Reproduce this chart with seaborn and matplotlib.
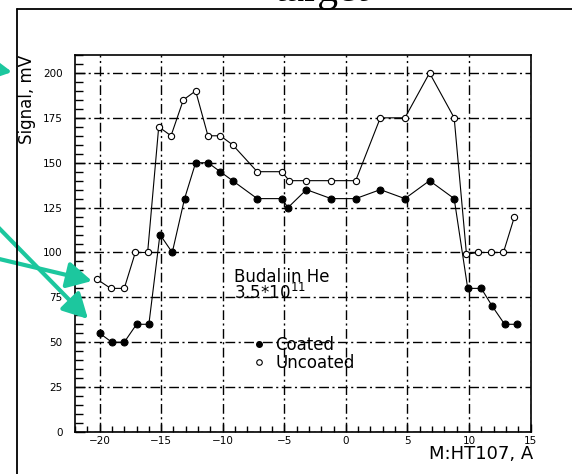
import matplotlib
matplotlib.use("Agg")
import matplotlib.pyplot as plt
from matplotlib.lines import Line2D
from matplotlib.patches import FancyArrowPatch
from matplotlib.ticker import MultipleLocator
import pandas as pd
import seaborn as sns

# ---- data ----
coated_x = [-20, -19, -18, -17, -16, -15.1, -14.1, -13.1, -12.2, -11.2, -10.2, -9.2,
            -7.2, -5.2, -4.7, -3.2, -1.2, 0.8, 2.8, 4.8, 6.8, 8.8, 9.9, 11, 11.9, 12.9, 13.9]
coated_y = [55, 50, 50, 60, 60, 110, 100, 130, 150, 150, 145, 140,
            130, 130, 125, 135, 130, 130, 135, 130, 140, 130, 80, 80, 70, 60, 60]

uncoated_x = [-20.2, -19.1, -18, -17.1, -16.1, -15.2, -14.2, -13.2, -12.2, -11.2, -10.2, -9.2,
              -7.2, -5.2, -4.6, -3.2, -1.2, 0.8, 2.8, 4.8, 6.8, 8.8, 9.8, 10.7, 11.8, 12.8, 13.7]
uncoated_y = [85, 80, 80, 100, 100, 170, 165, 185, 190, 165, 165, 160,
              145, 145, 140, 140, 140, 140, 175, 175, 200, 175, 99, 100, 100, 100, 120]

series_names = ["Coated", "Uncoated"]
x_ticks = [-20, -15, -10, -5, 0, 5, 10, 15]
y_ticks = [0, 25, 50, 75, 100, 125, 150, 175, 200]
x_label = "M:HT107, A"
y_label = "Signal, mV"
note_text = "Budal in He\n" + r"3.5*10$^{11}$"

df_c = pd.DataFrame({"x": coated_x, "y": coated_y})
df_u = pd.DataFrame({"x": uncoated_x, "y": uncoated_y})

sns.set_style("ticks")
plt.rcParams["font.family"] = ["DejaVu Sans"]
plt.rcParams["mathtext.fontset"] = "dejavusans"
for key in ["text.color", "axes.labelcolor", "xtick.color", "ytick.color", "axes.edgecolor"]:
    plt.rcParams[key] = "black"

W, H = 572, 474
fig = plt.figure(figsize=(W / 100, H / 100), dpi=100)
fig.patch.set_facecolor("white")
ax = fig.add_axes([75 / W, 1 - 432 / H, (530.5 - 75) / W, (432 - 55) / H])
ax.set_facecolor("white")

sns.lineplot(data=df_c, x="x", y="y", ax=ax, color="black", linewidth=0.8,
             marker="o", markersize=5, markerfacecolor="black",
             markeredgecolor="black", sort=False, estimator=None)
sns.lineplot(data=df_u, x="x", y="y", ax=ax, color="black", linewidth=0.8,
             marker="o", markersize=4.5, markerfacecolor="white",
             markeredgecolor="black", markeredgewidth=0.8, sort=False, estimator=None)

ax.set_xlim(-22, 15)
ax.set_ylim(0, 210)
ax.set_xticks(x_ticks)
ax.set_yticks(y_ticks)
ax.xaxis.set_minor_locator(MultipleLocator(1))
ax.yaxis.set_minor_locator(MultipleLocator(5))
ax.tick_params(axis="both", which="both", direction="in", top=False, right=False,
               width=1.0, color="black", labelcolor="black")
ax.tick_params(axis="x", which="major", length=6, pad=3, labelsize=7.5)
ax.tick_params(axis="x", which="minor", length=4)
ax.tick_params(axis="y", which="major", length=7, pad=9, labelsize=7.5)
ax.tick_params(axis="y", which="minor", length=6)

ax.grid(True, which="major", color="black", linewidth=1.0,
        linestyle=(0, (7, 2.5, 1.5, 2.5)))
for sp in ax.spines.values():
    sp.set_visible(True)
    sp.set_linewidth(1.2)
    sp.set_color("black")

ax.set_xlabel(x_label, fontsize=13, loc="right", color="black")
ax.xaxis.set_label_coords(1.005, -0.035)
ax.set_ylabel(y_label, fontsize=12, loc="top", color="black")
ax.yaxis.set_label_coords(-0.085, 1.0)

ax.text(-9.1, 91.5, note_text, fontsize=12, ha="left", va="top",
        linespacing=0.85, color="black")

handles = [Line2D([], [], linestyle="none", marker="o", markersize=4,
                  markerfacecolor="black", markeredgecolor="black"),
           Line2D([], [], linestyle="none", marker="o", markersize=4,
                  markerfacecolor="white", markeredgecolor="black", markeredgewidth=0.8)]
leg = ax.legend(handles, series_names, loc="upper left", bbox_to_anchor=(0.392, 0.255),
                frameon=False, fontsize=12, handlelength=0.6, handletextpad=0.7,
                labelspacing=0.0, borderpad=0, borderaxespad=0)
for t in leg.get_texts():
    t.set_color("black")

# slide frame
fig.add_artist(Line2D([17 / W, 1.02], [1 - 9 / H, 1 - 9 / H], transform=fig.transFigure,
                      color="black", linewidth=1.3))
fig.add_artist(Line2D([17 / W, 17 / W], [-0.02, 1 - 9 / H], transform=fig.transFigure,
                      color="black", linewidth=1.3))
fig.text(322 / W, 1 - 1.5 / H, "target", fontsize=30, family="Liberation Serif",
         ha="center", va="baseline", color="black")

# teal pointer arrows (figure pixel coordinates, y from top)
teal = "#1cc79e"
for (x0, y0), (x1, y1) in [((-20, 67), (12, 72)),
                           ((-5, 224), (88, 319)),
                           ((-5, 258), (92, 281))]:
    fig.add_artist(FancyArrowPatch(
        (x0 / W, 1 - y0 / H), (x1 / W, 1 - y1 / H), transform=fig.transFigure,
        arrowstyle="-|>,head_length=0.75,head_width=0.4", mutation_scale=20,
        color=teal, linewidth=3, shrinkA=0, shrinkB=0))

fig.savefig("out.png", dpi=100, facecolor="white")
